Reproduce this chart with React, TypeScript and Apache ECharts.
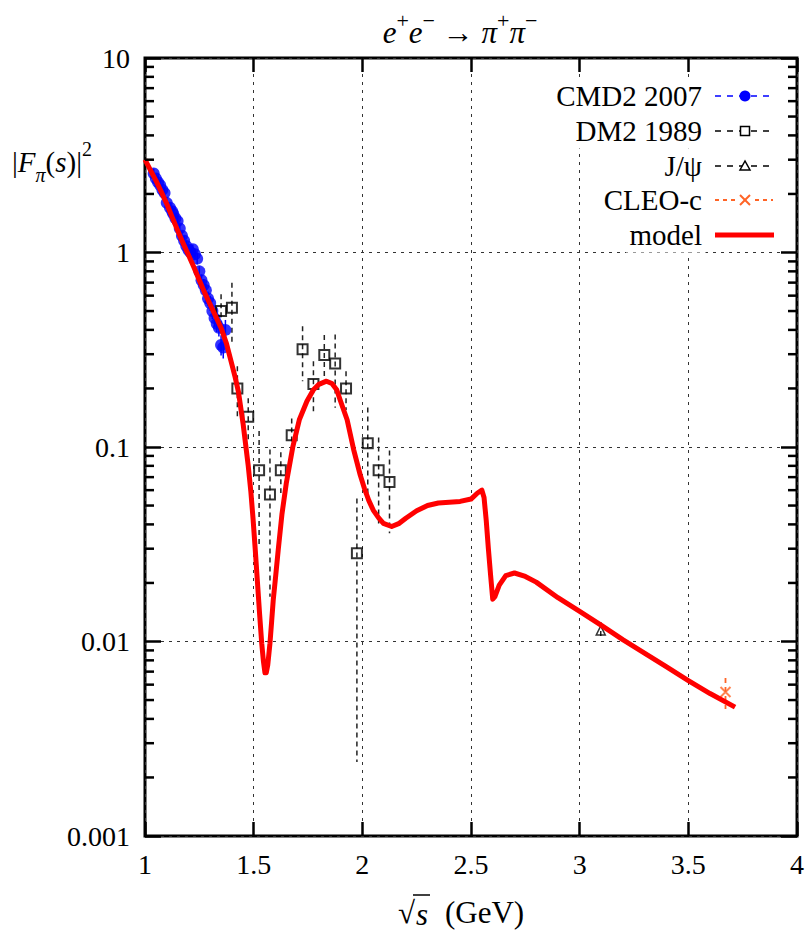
import React, { useEffect, useRef } from "react";
import * as echarts from "echarts";

const FONT = "Liberation Serif";

// Axis tick labels
const yTickLabels = ["0.001", "0.01", "0.1", "1", "10"];
const xTickLabels = ["1", "1.5", "2", "2.5", "3", "3.5", "4"];

// CMD2 2007
const cmd2X = [1.04, 1.05, 1.06, 1.07, 1.08, 1.09, 1.1, 1.115, 1.125, 1.13, 1.14, 1.15, 1.16, 1.17, 1.18, 1.19, 1.2, 1.21, 1.22, 1.23, 1.24, 1.25, 1.26, 1.27, 1.28, 1.29, 1.3, 1.31, 1.32, 1.33, 1.34, 1.35, 1.36, 1.37];
const cmd2Y = [2.55, 2.4, 2.3, 2.22, 2.1, 2.02, 1.8, 1.7, 1.63, 1.58, 1.5, 1.45, 1.33, 1.22, 1.15, 1.08, 1.03, 1.0, 1.04, 0.98, 0.93, 0.8, 0.72, 0.68, 0.64, 0.58, 0.55, 0.5, 0.46, 0.43, 0.41, 0.335, 0.325, 0.4];
const cmd2Err = [0.15, 0.14, 0.14, 0.13, 0.12, 0.12, 0.1, 0.1, 0.1, 0.09, 0.09, 0.09, 0.08, 0.07, 0.07, 0.07, 0.06, 0.06, 0.06, 0.06, 0.06, 0.05, 0.05, 0.05, 0.05, 0.05, 0.05, 0.045, 0.045, 0.04, 0.04, 0.04, 0.04, 0.05];

// DM2 1989
const dm2X = [1.35, 1.4, 1.425, 1.475, 1.525, 1.575, 1.625, 1.675, 1.725, 1.775, 1.825, 1.875, 1.925, 1.975, 2.025, 2.075, 2.125];
const dm2Y = [0.5, 0.52, 0.2, 0.143, 0.076, 0.057, 0.076, 0.115, 0.318, 0.211, 0.297, 0.269, 0.2, 0.0284, 0.1045, 0.076, 0.066];
const dm2Err = [0.11, 0.18, 0.06, 0.035, 0.045, 0.04, 0.018, 0.025, 0.1, 0.065, 0.08, 0.11, 0.045, 0.026, 0.055, 0.036, 0.03];

// J/psi
const jpsiX = [3.097];
const jpsiY = [0.0114];
const jpsiErr = [0.0012];

// CLEO-c
const cleoX = [3.671];
const cleoY = [0.0055];
const cleoErr = [0.001];

// model curve
const modelX = [1.0, 1.025, 1.05, 1.075, 1.1, 1.125, 1.15, 1.175, 1.2, 1.225, 1.25, 1.275, 1.3, 1.325, 1.35, 1.375, 1.4, 1.415, 1.43, 1.452, 1.475, 1.487, 1.497, 1.507, 1.517, 1.527, 1.537, 1.545, 1.552, 1.558, 1.565, 1.575, 1.583, 1.59, 1.6, 1.613, 1.63, 1.65, 1.68, 1.71, 1.745, 1.775, 1.8, 1.835, 1.86, 1.882, 1.9, 1.93, 1.96, 1.99, 2.01, 2.03, 2.05, 2.075, 2.097, 2.135, 2.17, 2.2, 2.25, 2.3, 2.35, 2.4, 2.45, 2.5, 2.53, 2.55, 2.56, 2.57, 2.58, 2.59, 2.6, 2.61, 2.63, 2.66, 2.7, 2.75, 2.8, 2.9, 3.0, 3.1, 3.2, 3.3, 3.4, 3.5, 3.6, 3.715];
const modelY = [3.0, 2.65, 2.35, 2.05, 1.78, 1.52, 1.3, 1.12, 0.97, 0.84, 0.72, 0.62, 0.54, 0.47, 0.41, 0.34, 0.265, 0.228, 0.192, 0.13, 0.08, 0.059, 0.043, 0.03, 0.0205, 0.014, 0.0098, 0.0079, 0.0069, 0.0069, 0.0076, 0.0098, 0.0128, 0.0163, 0.021, 0.0295, 0.045, 0.065, 0.1, 0.138, 0.172, 0.197, 0.21, 0.218, 0.212, 0.197, 0.172, 0.138, 0.097, 0.072, 0.061, 0.053, 0.0474, 0.0432, 0.0405, 0.039, 0.0405, 0.043, 0.047, 0.05, 0.0515, 0.052, 0.0525, 0.054, 0.058, 0.06, 0.055, 0.042, 0.03, 0.022, 0.0165, 0.017, 0.0195, 0.0218, 0.0225, 0.0216, 0.0202, 0.0168, 0.0143, 0.0121, 0.0102, 0.0087, 0.0074, 0.0063, 0.0054, 0.0046];

const BLUE = "#0000ff";
const ORANGE = "#ff6426";
const RED = "#ff0000";

const X_MIN = 1;
const X_MAX = 4;
const Y_MIN = 0.001;
const Y_MAX = 10;

// Minor log ticks at 2..9 within each decade
const minorTickValues: number[] = [];
for (let d = -3; d < 1; d++) {
  for (let k = 2; k <= 9; k++) minorTickValues.push(Number((k * Math.pow(10, d)).toPrecision(3)));
}

function errorBars(xs: number[], ys: number[], errs: number[], color: string, dash: number[] | null, width: number) {
  return {
    type: "custom",
    silent: true,
    clip: true,
    z: 2,
    data: xs.map((x, i) => [x, ys[i], errs[i]]),
    encode: { x: 0, y: 1 },
    renderItem: (_p: any, api: any) => {
      const x = api.value(0);
      const y = api.value(1);
      const e = api.value(2);
      const lo = Math.max(y - e, 1e-5);
      const top = api.coord([x, y + e]);
      const bot = api.coord([x, lo]);
      return {
        type: "line",
        shape: { x1: top[0], y1: top[1], x2: bot[0], y2: bot[1] },
        style: { stroke: color, lineWidth: width, lineDash: dash || undefined, fill: null },
      };
    },
  };
}

function buildOption() {
  const labelStyle = { fontFamily: FONT, fontSize: 28, color: "#000" };
  const legendRows = [
    { text: "CMD2 2007", y: 96, left: 553 },
    { text: "DM2 1989", y: 131, left: 575 },
    { text: "J/ψ", y: 166, left: 650 },
    { text: "CLEO-c", y: 200, left: 608 },
    { text: "model", y: 235, left: 626 },
  ];
  const lx1 = 715;
  const lx2 = 773;
  const sx = 745;
  const legendGraphics: any[] = [];
  legendRows.forEach((r) => {
    // opaque box behind each key entry
    legendGraphics.push({
      type: "rect",
      z: 99,
      shape: { x: r.left, y: r.y - 17.5, width: 706 - r.left, height: 35 },
      style: { fill: "#fff" },
    });
    legendGraphics.push({
      type: "text",
      x: 702,
      y: r.y,
      z: 100,
      style: {
        text: r.text,
        fontFamily: FONT,
        fontSize: 29,
        fill: "#000",
        align: "right",
        verticalAlign: "middle",
      },
    });
  });
  // sample lines
  legendGraphics.push(
    { type: "line", z: 100, shape: { x1: lx1, y1: 96, x2: lx2, y2: 96 }, style: { stroke: BLUE, lineWidth: 1.5, lineDash: [6, 6] } },
    { type: "circle", z: 101, shape: { cx: sx, cy: 96, r: 5.5 }, style: { fill: BLUE } },
    { type: "line", z: 100, shape: { x1: lx1, y1: 131, x2: lx2, y2: 131 }, style: { stroke: "#000", lineWidth: 1.5, lineDash: [6, 6] } },
    { type: "rect", z: 101, shape: { x: sx - 4.5, y: 131 - 4.5, width: 9, height: 9 }, style: { fill: "#fff", stroke: "#000", lineWidth: 1.5 } },
    { type: "line", z: 100, shape: { x1: lx1, y1: 166, x2: lx2, y2: 166 }, style: { stroke: "#000", lineWidth: 1.5, lineDash: [6, 6] } },
    { type: "polygon", z: 101, shape: { points: [[sx, 166 - 5], [sx - 5, 166 + 4], [sx + 5, 166 + 4]] }, style: { fill: "#fff", stroke: "#000", lineWidth: 1.5 } },
    { type: "line", z: 100, shape: { x1: lx1, y1: 200, x2: lx2, y2: 200 }, style: { stroke: ORANGE, lineWidth: 1.8, lineDash: [4, 4] } },
    { type: "rect", z: 100, shape: { x: sx - 6, y: 194, width: 12, height: 12 }, style: { fill: "#fff" } },
    { type: "line", z: 101, shape: { x1: sx - 5, y1: 195, x2: sx + 5, y2: 205 }, style: { stroke: ORANGE, lineWidth: 2 } },
    { type: "line", z: 101, shape: { x1: sx - 5, y1: 205, x2: sx + 5, y2: 195 }, style: { stroke: ORANGE, lineWidth: 2 } },
    { type: "line", z: 100, shape: { x1: lx1, y1: 235, x2: lx2 + 1, y2: 235 }, style: { stroke: RED, lineWidth: 5 } }
  );

  const richBase = {
    n: { fontFamily: FONT, fontSize: 29, lineHeight: 46, color: "#000" },
    i: { fontFamily: FONT, fontSize: 29, lineHeight: 46, fontStyle: "italic", color: "#000" },
    sub: { fontFamily: FONT, fontSize: 20, lineHeight: 20, fontStyle: "italic", verticalAlign: "bottom", color: "#000" },
    sup: { fontFamily: FONT, fontSize: 20, lineHeight: 20, verticalAlign: "top", color: "#000" },
  };
  const richTitle = {
    n: { fontFamily: FONT, fontSize: 31, lineHeight: 46, color: "#000" },
    i: { fontFamily: FONT, fontSize: 31, lineHeight: 46, fontStyle: "italic", color: "#000" },
    sup: { fontFamily: FONT, fontSize: 22, lineHeight: 22, verticalAlign: "top", color: "#000" },
  };

  return {
    animation: false,
    textStyle: { fontFamily: FONT },
    grid: {
      left: 145,
      right: 14,
      top: 58,
      bottom: 112,
      show: true,
      borderColor: "#000",
      borderWidth: 3,
      backgroundColor: "transparent",
    },
    xAxis: [
      {
        type: "value",
        min: X_MIN,
        max: X_MAX,
        interval: 0.5,
        axisLine: { show: false },
        axisTick: { show: true, inside: true, length: 14, lineStyle: { color: "#000", width: 2.5 } },
        axisLabel: {
          ...labelStyle,
          margin: 14,
          formatter: (v: number) => xTickLabels[Math.round((v - X_MIN) / 0.5)] ?? "",
        },
        splitLine: { show: true, lineStyle: { color: "#333", width: 1, type: [3, 5] } },
      },
      {
        type: "value",
        position: "top",
        min: X_MIN,
        max: X_MAX,
        interval: 0.5,
        axisLine: { show: false },
        axisTick: { show: true, inside: true, length: 14, lineStyle: { color: "#000", width: 2.5 } },
        axisLabel: { show: false },
        splitLine: { show: false },
      },
    ],
    yAxis: [
      {
        type: "log",
        logBase: 10,
        min: Y_MIN,
        max: Y_MAX,
        axisLine: { show: false },
        axisTick: { show: true, inside: true, length: 16, lineStyle: { color: "#000", width: 2.5 } },
        axisLabel: {
          ...labelStyle,
          margin: 15,
          formatter: (v: number) => yTickLabels[Math.round(Math.log10(v)) + 3] ?? "",
        },
        splitLine: { show: true, lineStyle: { color: "#333", width: 1, type: [3, 5] } },
      },
      {
        type: "log",
        logBase: 10,
        position: "right",
        min: Y_MIN,
        max: Y_MAX,
        axisLine: { show: false },
        axisTick: { show: true, inside: true, length: 16, lineStyle: { color: "#000", width: 2.5 } },
        axisLabel: { show: false },
        splitLine: { show: false },
      },
    ],
    graphic: [
      {
        type: "text",
        x: 460,
        y: 32,
        style: {
          text: "{i|e}{sup|+}{i|e}{sup|−}{n| → }{i|π}{sup|+}{i|π}{sup|−}",
          align: "center",
          verticalAlign: "middle",
          rich: richTitle,
        },
      },
      {
        type: "text",
        x: 12,
        y: 162,
        style: {
          text: "{n||}{i|F}{sub|π}{n|(}{i|s}{n|)|}{sup|2}",
          align: "left",
          verticalAlign: "middle",
          rich: richBase,
        },
      },
      // x-axis title: square root sign, its bar, s, then the unit
      {
        type: "text",
        x: 415,
        y: 912,
        style: { text: "√", fontFamily: FONT, fontSize: 31, fill: "#000", align: "right", verticalAlign: "middle" },
      },
      {
        type: "line",
        shape: { x1: 413, y1: 895, x2: 430, y2: 895 },
        style: { stroke: "#000", lineWidth: 1.5 },
      },
      {
        type: "text",
        x: 416,
        y: 914,
        style: { text: "s", fontFamily: FONT, fontSize: 31, fontStyle: "italic", fill: "#000", align: "left", verticalAlign: "middle" },
      },
      {
        type: "text",
        x: 445,
        y: 912,
        style: { text: "(GeV)", fontFamily: FONT, fontSize: 31, fill: "#000", align: "left", verticalAlign: "middle" },
      },
      ...legendGraphics,
    ],
    series: [
      {
        type: "custom",
        silent: true,
        clip: false,
        z: 5,
        data: minorTickValues.map((v) => [X_MIN, v]),
        encode: { x: 0, y: 1 },
        renderItem: (_p: any, api: any) => {
          const v = api.value(1);
          const l = api.coord([X_MIN, v]);
          const r = api.coord([X_MAX, v]);
          return {
            type: "group",
            children: [
              { type: "line", shape: { x1: l[0], y1: l[1], x2: l[0] + 9, y2: l[1] }, style: { stroke: "#000", lineWidth: 2.5 } },
              { type: "line", shape: { x1: r[0], y1: r[1], x2: r[0] - 9, y2: r[1] }, style: { stroke: "#000", lineWidth: 2.5 } },
            ],
          };
        },
      },
      errorBars(cmd2X, cmd2Y, cmd2Err, BLUE, null, 1.5),
      {
        name: "CMD2 2007",
        type: "scatter",
        z: 3,
        symbol: "circle",
        symbolSize: 12,
        itemStyle: { color: BLUE },
        data: cmd2X.map((x, i) => [x, cmd2Y[i]]),
      },
      errorBars(dm2X, dm2Y, dm2Err, "#222", [5, 4], 1.5),
      {
        name: "DM2 1989",
        type: "scatter",
        z: 3,
        symbol: "rect",
        symbolSize: 10,
        itemStyle: { color: "rgba(255,255,255,0)", borderColor: "#000", borderWidth: 2 },
        data: dm2X.map((x, i) => [x, dm2Y[i]]),
      },
      errorBars(jpsiX, jpsiY, jpsiErr, "#222", [5, 4], 1.5),
      {
        name: "J/ψ",
        type: "scatter",
        z: 3,
        symbol: "triangle",
        symbolSize: 9,
        itemStyle: { color: "rgba(255,255,255,0)", borderColor: "#000", borderWidth: 1.5 },
        data: jpsiX.map((x, i) => [x, jpsiY[i]]),
      },
      errorBars(cleoX, cleoY, cleoErr, ORANGE, [5, 4], 1.8),
      {
        name: "CLEO-c",
        type: "scatter",
        z: 3,
        symbol: "path://M0,0L10,10M0,10L10,0",
        symbolSize: 10,
        itemStyle: { color: "rgba(255,255,255,0)", borderColor: ORANGE, borderWidth: 2 },
        data: cleoX.map((x, i) => [x, cleoY[i]]),
      },
      {
        name: "model",
        type: "line",
        z: 4,
        showSymbol: false,
        symbol: "none",
        smooth: false,
        lineStyle: { color: RED, width: 5, join: "round" },
        data: modelX.map((x, i) => [x, modelY[i]]),
      },
    ],
  };
}

export default function App() {
  const ref = useRef<HTMLDivElement>(null);
  useEffect(() => {
    if (!ref.current) return;
    document.body.style.margin = "0";
    const chart = echarts.init(ref.current, undefined, { renderer: "svg" });
    chart.setOption(buildOption() as any);
    return () => chart.dispose();
  }, []);
  return <div ref={ref} style={{ width: 811, height: 948 }} />;
}
